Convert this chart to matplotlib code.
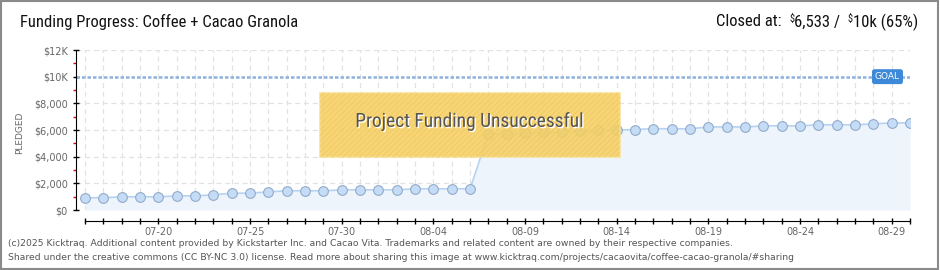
import os
import matplotlib
matplotlib.use('Agg')
import matplotlib.pyplot as plt
import matplotlib.dates as mdates
import matplotlib.patheffects as pe
from matplotlib.patches import Rectangle
from matplotlib.transforms import blended_transform_factory
from matplotlib import font_manager
from matplotlib.font_manager import FontProperties
import numpy as np
import datetime as dt

# ---------------- data ----------------
start_date = dt.date(2025, 7, 16)
end_date = dt.date(2025, 8, 30)
pledged = [920, 920, 990, 990, 990, 1060, 1060, 1140, 1260, 1260,
           1360, 1440, 1440, 1440, 1510, 1510, 1510, 1510, 1590, 1590,
           1590, 1590, 5710, 5720, 5760, 5820, 5840, 5900, 5980, 6000,
           6030, 6100, 6090, 6090, 6230, 6230, 6230, 6310, 6310, 6310,
           6390, 6390, 6390, 6460, 6533, 6533]
goal = 10000
ytick_values = [0, 2000, 4000, 6000, 8000, 10000, 12000]
ytick_labels = ['$0', '$2,000', '$4,000', '$6,000', '$8,000', '$10K', '$12K']
title = 'Funding Progress: Coffee + Cacao Granola'
status_parts = [('Closed at:  ', False), ('$', True), ('6,533 /  ', False),
                ('$', True), ('10k (65%)', False)]
banner = 'Project Funding Unsuccessful'
footer1 = ('(c)2025 Kicktraq. Additional content provided by Kickstarter Inc. and Cacao Vita. '
           'Trademarks and related content are owned by their respective companies.')
footer2 = ('Shared under the creative commons (CC BY-NC 3.0) license. Read more about sharing '
           'this image at www.kicktraq.com/projects/cacaovita/coffee-cacao-granola/#sharing')

# ---------------- fonts ----------------
def find_condensed():
    keys = ['robotocondensed-regular', 'roboto_condensed-regular', 'opensans_condensed-regular',
            'opensans-condensedregular', 'opensans_semicondensed-regular',
            'opensans-semicondensed', 'dejavusanscondensed.ttf',
            'liberationsansnarrow-regular', 'notosans-condensed.', 'notosans-condensedregular',
            'inter_condensed']
    files = [f.fname for f in font_manager.fontManager.ttflist]
    for k in keys:
        for fn in files:
            if k in os.path.basename(fn).lower():
                return fn
    for f in font_manager.fontManager.ttflist:
        if f.stretch in ('condensed', 'semi-condensed') and f.style == 'normal' and f.weight in (400, 'normal', 'regular'):
            return f.fname
    return None

cfile = find_condensed()
def cfp(size):
    if cfile:
        return FontProperties(fname=cfile, size=size)
    return FontProperties(family='DejaVu Sans', size=size * 0.82)

plt.rcParams['font.family'] = ['DejaVu Sans']
plt.rcParams['hatch.linewidth'] = 0.4

W, H = 940, 270
fig = plt.figure(figsize=(W / 100, H / 100), dpi=100)

def px(x0, y0, x1, y1):
    return [x0 / W, 1 - y1 / H, (x1 - x0) / W, (y1 - y0) / H]

ax = fig.add_axes(px(76, 50, 910, 210))

dates = np.arange(np.datetime64(start_date), np.datetime64(end_date) + 1)
x = mdates.date2num(dates.astype(object))

ax.set_xlim(x[0] - 0.5, x[-1])
ax.set_ylim(0, 12000)

# grid
for xv in x:
    ax.axvline(xv, color='#e2e2e2', lw=0.9, ls=(0, (4, 3)), zorder=0)
for yv in ytick_values:
    if yv != goal:
        ax.axhline(yv, color='#e2e2e2', lw=0.9, ls=(0, (4, 3)), zorder=0)

ax.fill_between(x, pledged, 0, color='#edf4fc', zorder=1, lw=0)
ax.plot(x, pledged, color='#b5d2f1', lw=1.2, zorder=2)
ax.plot(x, pledged, ls='none', marker='o', ms=7, mfc='#c4dcf6',
        mec='#93abc9', mew=0.8, zorder=3)

ax.axhline(goal, color='#8db2dc', lw=1.8, ls=(0, (1.4, 0.8)), zorder=2)
bt = blended_transform_factory(ax.transAxes, ax.transData)
ax.text(0.973, goal, 'GOAL', transform=bt, ha='center', va='center',
        color='white', fontsize=6.5, family='DejaVu Sans', zorder=6,
        bbox=dict(boxstyle='round,pad=0.25,rounding_size=0.2', fc='#3c88d9', ec='#3c88d9'))

# banner box
bx0, bx1 = (320 - 76) / 834, (620 - 76) / 834
by0, by1 = (210 - 157) / 160, (210 - 93) / 160
ax.add_patch(Rectangle((bx0, by0), bx1 - bx0, by1 - by0, transform=ax.transAxes,
                       fc='#f6d063', ec='#f8de8e', lw=1.2, alpha=0.88, zorder=4))
ax.add_patch(Rectangle((bx0, by0), bx1 - bx0, by1 - by0, transform=ax.transAxes,
                       fill=False, hatch='//////', ec='#eec456', lw=0, zorder=4))
ax.text((bx0 + bx1) / 2, (by0 + by1) / 2 + 0.02, banner, transform=ax.transAxes,
        ha='center', va='center', fontproperties=cfp(14), color='#555555', zorder=5,
        path_effects=[pe.SimplePatchShadow(offset=(1, -1), shadow_rgbFace='white', alpha=1),
                      pe.Normal()])

# spines / ticks
for s in ['top', 'right']:
    ax.spines[s].set_visible(False)
ax.spines['left'].set_color('black')
ax.spines['bottom'].set_color('black')
ax.spines['bottom'].set_position(('outward', 8))
ax.spines['bottom'].set_bounds(x[0], x[-1])

ax.set_yticks(ytick_values)
ax.set_yticklabels(ytick_labels)
ax.set_yticks([1000, 3000, 5000, 7000, 9000, 11000], minor=True)
ax.tick_params(axis='y', which='major', direction='inout', length=4, width=1,
               color='black', labelsize=7, labelcolor='#666666', pad=4)
ax.tick_params(axis='y', which='minor', direction='out', length=2.5, width=1, color='#dd0000')

major_x = [xv for xv, d in zip(x, dates) if (d - np.datetime64('2025-07-20')).astype(int) % 5 == 0]
ax.set_xticks(major_x)
ax.set_xticklabels([mdates.num2date(v).strftime('%m-%d') for v in major_x])
ax.set_xticks(x, minor=True)
ax.tick_params(axis='x', which='both', direction='inout', length=4, width=1, color='black',
               labelsize=7, labelcolor='#666666', pad=2)

fig.text(20 / W, 1 - 133 / H, 'PLEDGED', rotation=90, ha='center', va='center',
         fontsize=6.5, color='#666666', family='DejaVu Sans')

# titles
fig.text(20 / W, 1 - 22 / H, title, ha='left', va='center', fontproperties=cfp(12),
         color='#111111')

renderer = fig.canvas.get_renderer()
pieces = []
for txt, sup in status_parts:
    t = fig.text(0, 1 - (19 if sup else 22) / H, txt, ha='left', va='center',
                 fontproperties=cfp(7.5 if sup else 12), color='#111111')
    pieces.append(t)
widths = [p.get_window_extent(renderer).width for p in pieces]
xpos = 918 - sum(widths)
for p, w in zip(pieces, widths):
    p.set_x(xpos / W)
    xpos += w

fig.text(8 / W, 1 - 243 / H, footer1, ha='left', va='center', fontsize=6.65, color='#555555')
fig.text(8 / W, 1 - 257 / H, footer2, ha='left', va='center', fontsize=6.65, color='#555555')

fig.patches.append(Rectangle((0.001, 0.002), 0.997, 0.995, transform=fig.transFigure,
                             fill=False, ec='#8a8a8a', lw=1.5))

fig.savefig('out.png', dpi=100)
